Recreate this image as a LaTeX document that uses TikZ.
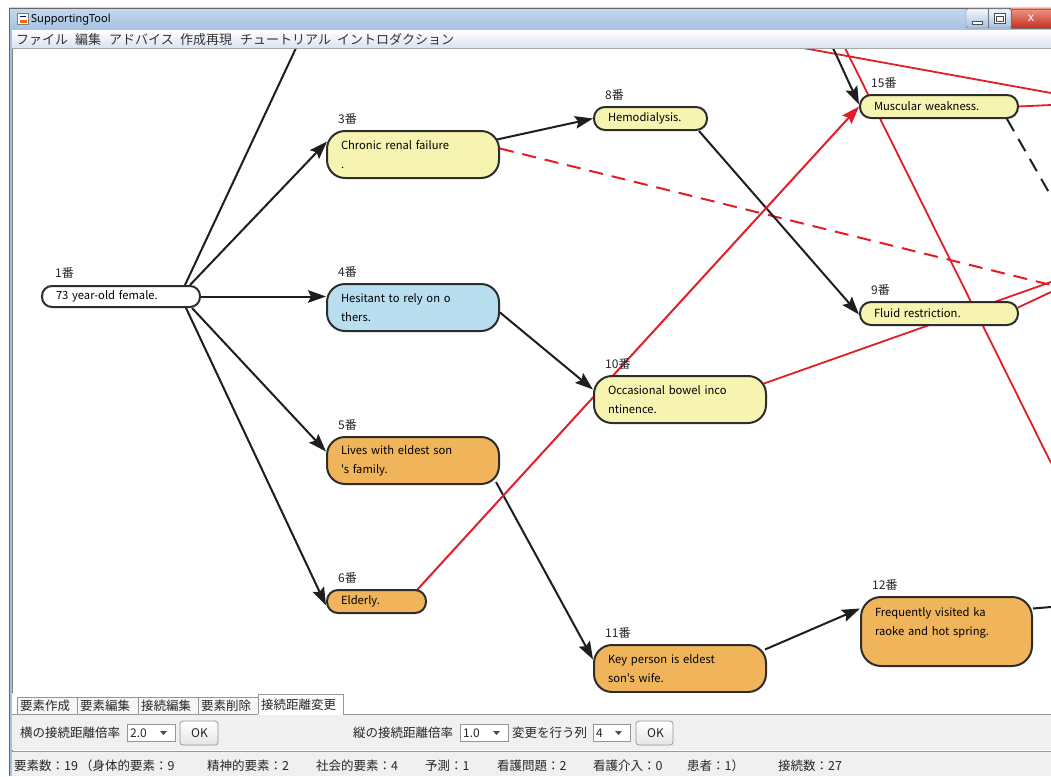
\documentclass[tikz,border=0pt]{standalone}
\usepackage{fontspec}
\setmainfont{Noto Sans CJK JP}
\newfontfamily\jp{Noto Sans CJK JP}
\newfontfamily\uif{Noto Sans}
\usetikzlibrary{arrows.meta,calc}
\pgfdeclarelayer{background}
\pgfsetlayers{background,main}
\definecolor{yel}{RGB}{247,243,176}
\definecolor{blu}{RGB}{184,222,240}
\definecolor{org}{RGB}{240,180,90}
\definecolor{bline}{RGB}{45,45,45}
\definecolor{eblack}{RGB}{30,30,30}
\definecolor{ered}{RGB}{225,30,40}
\definecolor{tbA}{RGB}{196,216,240}
\definecolor{tbB}{RGB}{164,192,226}
\definecolor{panel}{RGB}{240,240,240}
\definecolor{pline}{RGB}{150,150,150}
\definecolor{closeA}{RGB}{236,150,130}
\definecolor{closeB}{RGB}{200,45,35}
\definecolor{menuB}{RGB}{218,226,241}
\tikzset{
  elbox/.style={draw=bline, line width=2pt, inner xsep=14pt, inner ysep=0pt, align=left,
    anchor=north west, rounded corners=#1,
    font=\jp\fontsize{11.2}{19}\selectfont},
  lab/.style={anchor=base west, inner sep=0pt, font=\jp\fontsize{12}{14}\selectfont, text=black!85},
  blk/.style={draw=eblack, line width=2pt, -{Stealth[length=18pt,width=12.5pt,inset=3pt]}},
  blkplain/.style={draw=eblack, line width=2pt},
  redarr/.style={draw=ered, line width=2pt, -{Stealth[length=18pt,width=12.5pt,inset=3pt]}},
  redl/.style={draw=ered, line width=1.8pt},
  reddash/.style={draw=ered, line width=2pt, dash pattern=on 14pt off 9pt},
  blackdash/.style={draw=eblack, line width=2pt, dash pattern=on 14pt off 9pt},
  ui/.style={anchor=base west, inner sep=0pt, font=\jp\fontsize{12.5}{14}\selectfont, text=black!85},
  menu/.style={anchor=base west, inner sep=0pt, font=\jp\fontsize{13}{14}\selectfont, text=black!80},
  combo/.style={draw=pline, fill=white, line width=0.8pt},
  okbtn/.style={draw=pline, rounded corners=3pt, top color=white, bottom color=black!10, line width=0.8pt}
}
\begin{document}
\begin{tikzpicture}[x=1pt,y=-1pt]
\useasboundingbox (0,0) rectangle (1051,776);

% ---------- nodes ----------
\node[elbox=10, fill=white, text width=130pt, minimum height=21pt] (n1) at (41,285) {73 year-old female.};
\node[elbox=18, fill=yel, text width=144pt, minimum height=47pt] (n3) at (326,130) {Chronic renal failure\\.};
\node[elbox=18, fill=blu, text width=144pt, minimum height=47pt] (n4) at (326,283) {Hesitant to rely on o\\thers.};
\node[elbox=18, fill=org, text width=144pt, minimum height=47pt] (n5) at (326,436) {Lives with eldest son\\'s family.};
\node[elbox=11, fill=org, text width=71pt, minimum height=23pt] (n6) at (326,589) {Elderly.};
\node[elbox=11, fill=yel, text width=85pt, minimum height=23pt] (n8) at (593,106) {Hemodialysis.};
\node[elbox=18, fill=yel, text width=144pt, minimum height=47pt] (n10) at (593,375) {Occasional bowel inco\\ntinence.};
\node[elbox=18, fill=org, text width=144pt, minimum height=47pt] (n11) at (593,644) {Key person is eldest\\son's wife.};
\node[elbox=11, fill=yel, text width=130pt, minimum height=23pt] (n15) at (859,94) {Muscular weakness.};
\node[elbox=11, fill=yel, text width=130pt, minimum height=23pt] (n9) at (859,301) {Fluid restriction.};
\node[elbox=20, fill=org, text width=143pt, minimum height=69pt] (n12) at (860,596) {Frequently visited ka\\raoke and hot spring.\\\mbox{}};

% labels
\node[lab] (l1) at ($(n1.north west)+(14,-8)$) {1番};
\node[lab] (l3) at ($(n3.north west)+(12,-7)$) {3番};
\node[lab] (l4) at ($(n4.north west)+(12,-7)$) {4番};
\node[lab] (l5) at ($(n5.north west)+(12,-7)$) {5番};
\node[lab] (l6) at ($(n6.north west)+(12,-7)$) {6番};
\node[lab] (l8) at ($(n8.north west)+(12,-7)$) {8番};
\node[lab] (l10) at ($(n10.north west)+(12,-7)$) {10番};
\node[lab] (l11) at ($(n11.north west)+(12,-7)$) {11番};
\node[lab] (l15) at ($(n15.north west)+(12,-7)$) {15番};
\node[lab] (l9) at ($(n9.north west)+(12,-7)$) {9番};
\node[lab] (l12) at ($(n12.north west)+(12,-7)$) {12番};

% free ends
\coordinate (oTop1) at (296,48);
\coordinate (oTop15) at (833,48);
\coordinate (oDash3) at (1051,285);
\coordinate (oR10) at (1051,282);
\coordinate (oR9) at (1051,292);
\coordinate (oR15) at (1051,105);
\coordinate (oD15) at (1051,196);
\coordinate (oR12) at (1051,607);
\coordinate (rA1) at (845,48);
\coordinate (rA2) at (1051,463);
\coordinate (rB1) at (803,48);
\coordinate (rB2) at (1051,93);

% ---------- connectors ----------
\begin{pgfonlayer}{background}
\fill[white] (0,0) rectangle (1051,776);
\draw[redl] (rA1) -- (rA2);
\draw[redl] (rB1) -- (rB2);
\draw[redl] ($(n10.east)+(-3,-16)$) -- (oR10);
\draw[redl] ($(n9.east)+(-1,-6)$) -- (oR9);
\draw[redl] (n15.east) -- (oR15);
\draw[reddash] ($(n3.east)+(0,-6)$) -- (oDash3);
\draw[blackdash] ($(n15.south east)+(-12,0)$) -- (oD15);
\draw[blkplain] ($(n1.north east)+(-16,0)$) -- (oTop1);
\draw[blk] ($(n1.north east)+(-11,0)$) -- ($(n3.west)+(1,-13)$);
\draw[blk] (n1.east) -- (n1.east -| n4.west);
\draw[blk] ($(n1.south east)+(-9,0)$) -- ($(n5.west)+(0,-9)$);
\draw[blk] ($(n1.south east)+(-15,0)$) -- ($(n6.west)+(0,4)$);
\draw[blk] ($(n3.east)+(-3,-15)$) -- (n8.west);
\draw[blk] ($(n8.south east)+(-9,0)$) -- ($(n9.west)+(0,1)$);
\draw[blk] ($(n4.east)+(0,5)$) -- ($(n10.west)+(0,-10)$);
\draw[blk] ($(n5.south east)+(-4,-3)$) -- ($(n11.west)+(0,-9)$);
\draw[blk] ($(n11.east)+(-2,-19)$) -- ($(n12.west)+(0,-23)$);
\draw[blkplain] ($(n12.east)+(0,-23)$) -- (oR12);
\draw[redarr] ($(n6.north east)+(-10,1)$) -- (n15.west);
\draw[blk] (oTop15) -- ($(n15.west)+(0,-2)$);
\end{pgfonlayer}

% ---------- window chrome ----------
\fill[white] (0,0) rectangle (1051,8);
\fill[white] (0,0) rectangle (9,776);
\shade[top color=tbA, bottom color=tbB] (9,8) rectangle (1051,31);
\draw[black!60, line width=1pt] (9,8.5) -- (1051,8.5);
\fill[tbB] (9,31) rectangle (12,776);
\draw[black!60, line width=1pt] (9.5,8) -- (9.5,776);
\draw[black!50] (12,31) -- (12,776);
% icon
\node[draw=black!50, fill=white, minimum size=11pt, inner sep=0pt] (icon) at (23,19) {};
\fill[orange!80!red] (19.5,20) rectangle (26.5,23.5);
\draw[blue!60!black, line width=0.8pt] (20,16) -- (26,16);
\node[anchor=west, inner sep=0pt, font=\uif\fontsize{11}{12}\selectfont] (title) at (31,19.5) {SupportingTool};
% caption buttons
\shade[top color=white!80!tbA, bottom color=tbB, draw=black!55, rounded corners=2pt] (966,9) rectangle (1011,28);
\draw[black!55] (988.5,9) -- (988.5,28);
\fill[white, draw=black!70, line width=0.5pt] (972,21) rectangle (982,24);
\draw[black!70, fill=white] (994,13) rectangle (1005,23);
\draw[black!70, fill=white!80!tbA] (996,16) rectangle (1003,21);
\shade[top color=closeA, bottom color=closeB, draw=black!55] (1011,9) rectangle (1051,28);
\node[font=\uif\bfseries\fontsize{12}{12}\selectfont, text=white, inner sep=0pt] (xbtn) at (1031,18) {x};
% menu bar
\shade[top color=white!96!tbA, bottom color=menuB] (12,31) rectangle (1051,48);
\draw[black!35] (12,48.5) -- (1051,48.5);
\node[menu] (m1) at (16,45) {ファイル};
\node[menu] (m2) at (75,45) {編集};
\node[menu] (m3) at (109,45) {アドバイス};
\node[menu] (m4) at (180,45) {作成再現};
\node[menu] (m5) at (240,45) {チュートリアル};
\node[menu] (m6) at (337,45) {イントロダクション};

% tabs
\fill[white] (12,693) rectangle (1051,714);
\foreach \a/\b/\t [count=\i] in {17/77/要素作成, 77/138/要素編集, 138/198/接続編集, 198/258/要素削除}{
  \draw[pline, fill=panel!60!white] (\a,697) rectangle (\b,714);
  \node[ui] (tab\i) at (\a+3,710) {\t};
}
% panel
\fill[panel] (12,714) rectangle (1051,750);
\draw[pline] (12,714) -- (258,714);
\draw[pline] (343,714) -- (1051,714);
\fill[white] (258,694) rectangle (343,715);
\draw[pline] (258,714) -- (258,694) -- (343,694) -- (343,714);
\node[ui] (tab5) at (261,709) {接続距離変更};
\node[ui] (p1) at (20,737) {横の接続距離倍率};
\draw[combo] (127,724) rectangle (175,741);
\node[ui, font=\jp\fontsize{12}{14}\selectfont] (c1) at (130,737) {2.0};
\fill[black!70] (160,731) -- (167,731) -- (163.5,735) -- cycle;
\draw[okbtn] (180,721) rectangle (218,745);
\node[ui, font=\jp\fontsize{12}{14}\selectfont] (ok1) at (191,737) {OK};
\node[ui] (p2) at (353,737) {縦の接続距離倍率};
\draw[combo] (460,724) rectangle (508,741);
\node[ui, font=\jp\fontsize{12}{14}\selectfont] (c2) at (463,737) {1.0};
\fill[black!70] (493,731) -- (500,731) -- (496.5,735) -- cycle;
\node[ui] (p3) at (512,737) {変更を行う列};
\draw[combo] (593,724) rectangle (630,741);
\node[ui, font=\jp\fontsize{12}{14}\selectfont] (c3) at (596,737) {4};
\fill[black!70] (615,731) -- (622,731) -- (618.5,735) -- cycle;
\draw[okbtn] (636,721) rectangle (673,745);
\node[ui, font=\jp\fontsize{12}{14}\selectfont] (ok2) at (647,737) {OK};

% status bar
\fill[panel] (12,751) rectangle (1051,776);
\draw[pline] (12,751.5) -- (1051,751.5);
\node[ui] (s1) at (14,770) {要素数：19};
\node[ui] (s2) at (80,770) {（身体的要素：9};
\node[ui] (s3) at (207,770) {精神的要素：2};
\node[ui] (s4) at (316,770) {社会的要素：4};
\node[ui] (s5) at (425,770) {予測：1};
\node[ui] (s6) at (497,770) {看護問題：2};
\node[ui] (s7) at (593,770) {看護介入：0};
\node[ui] (s8) at (687,770) {患者：1）};
\node[ui] (s9) at (778,770) {接続数：27};
\end{tikzpicture}
\end{document}
